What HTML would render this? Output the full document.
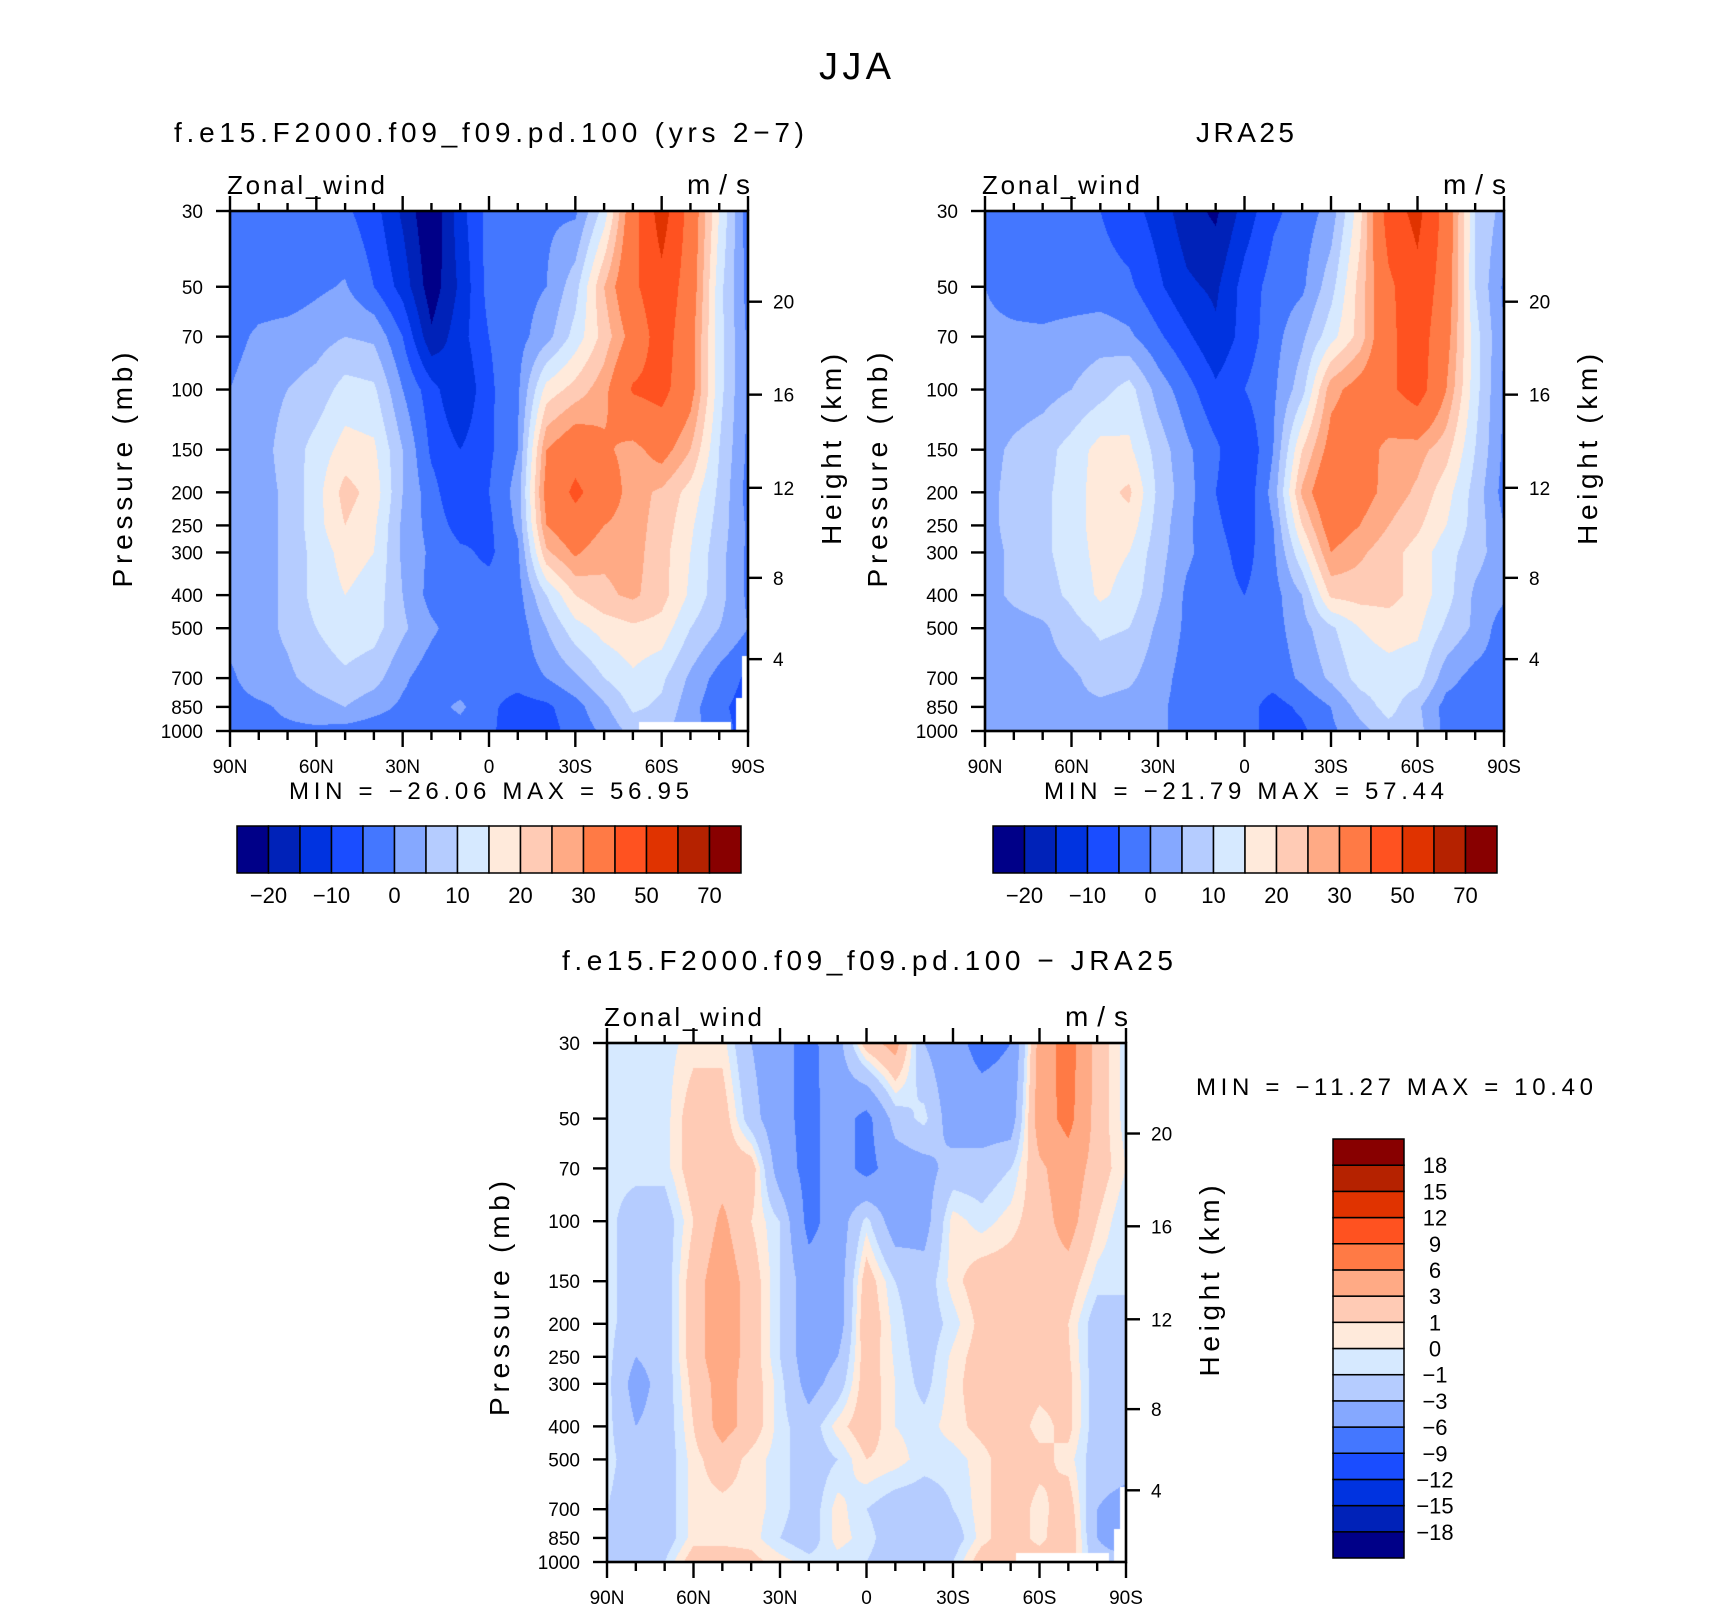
<!DOCTYPE html>
<html><head><meta charset="utf-8">
<style>
html,body{margin:0;padding:0;background:#fff;}
#wrap{position:relative;width:1710px;height:1611px;overflow:hidden;background:#fff;font-family:"Liberation Sans",sans-serif;}
canvas{position:absolute;}
svg{position:absolute;left:0;top:0;}
</style></head>
<body>
<div id="wrap">
<canvas id="c1"></canvas>
<canvas id="c2"></canvas>
<canvas id="c3"></canvas>
<svg id="ov" width="1710" height="1611"></svg>
</div>
<script>
// ---- data ----
const lats = [90,80,70,60,50,40,30,20,10,0,-10,-20,-30,-40,-50,-60,-70,-80,-90];
const levels = [30,50,70,100,150,200,250,300,400,500,700,850,1000];
const heightTicks = [20,16,12,8,4];
const heightTickP = [55.3,103.5,194.0,356.0,616.0];
const pressureTickLabels = ["30","50","70","100","150","200","250","300","400","500","700","850","1000"];
const latTickLabels = ["90N","60N","30N","0","30S","60S","90S"];
const colors = ["#000088","#0022b8","#0033e0","#1a4dff","#4477ff","#85a8ff","#b5ccff","#d6e9ff","#ffeadb","#ffcbb5","#ffaa85","#ff7a45","#ff5220","#e03300","#b52200","#880000"];
const boundsFull = [-20,-15,-10,-5,0,5,10,15,20,25,30,40,50,60,70];
const boundsFullLabels = ["−20","−10","0","10","20","30","50","70"];
const boundsDiff = [-18,-15,-12,-9,-6,-3,-1,0,1,3,6,9,12,15,18];
const boundsDiffLabels = ["−18","−15","−12","−9","−6","−3","−1","0","1","3","6","9","12","15","18"];

const uModel = [
 [-3,-3,-3,-3,-4,-8,-16,-25,-12,-3,-2,-1,-1,12,36,55,36,15,-3],
 [-3,-3,-3,-1,0.5,-5,-12,-23,-14,-3,-2,0,8,25,38,47,35,12,-2],
 [-2,1,2,3,5,4,-5,-19,-12,-5,-2,3,12,22,33,45,33,12,-1],
 [0,3,5,7,12,11,0,-8,-15,-6,-1,17,22,28,41,43,33,12,-1],
 [2,3,7,12,17,16,5,-6,-10,-6,0,30,36,31,28,33,25,10,-1],
 [2,3,6,13,22,18,5,-3,-10,-5,2,33,42,35,27,24,18,9,-2],
 [2,3,6,13,20,16,4,-2,-7,-6,1,30,36,30,27,23,16,8,-1],
 [2,3,6,12,17,15,4,-1,-4,-6,-1,24,31,26,27,22,15,7,-1],
 [2,3,6,12,15,13,5,-2,-3,-3,-2,10,20,24,26,22,14,7,-1],
 [2,3,6,10,13,12,6,1,-3,-3,-3,5,13,17,19,18,10,5,0],
 [-1,3,4,7,9,7,1,-3,-3,-3,-3,0,4,10,14,11,4,-2,-6],
 [-2,-1,1,3,5,2,-1,-2,1,-4,-7,-6,-2,4,11,9,2,-4,-7],
 [-2,-1,-1,-1,-2,-3,-3,-3,-2,-4,-8,-7,-3,1,7,6,2,-3,-7]
];
const uJra = [
 [-3,-3,-3,-3,-5,-8,-12,-18,-21,-13,-6,-3,2,18,45,53,36,10,3],
 [0,-2,-3,-3,-3,-4,-9,-14,-16,-8,-3,-1,8,22,38,47,35,10,-1],
 [1,1,1,2,3,1,-4,-9,-14,-8,-2,4,13,22,38,45,33,12,0],
 [1,2,3,5,8,12,3,-3,-9,-5,-1,8,28,33,38,45,30,12,-1],
 [3,6,8,12,17,16,8,1,-4,-10,0,20,33,34,28,27,22,10,-1],
 [3,7,9,12,18,21,9,2,-5,-9,2,26,38,33,28,24,17,8,-2],
 [3,7,9,12,18,18,8,1,-4,-8,0,20,34,30,25,21,15,8,0],
 [3,6,9,12,17,15,7,1,-3,-7,-1,14,30,26,22,18,12,7,2],
 [3,6,8,11,16,13,6,-1,-3,-5,-2,5,21,22,22,18,12,4,1],
 [2,3,4,8,11,10,4,-1,-3,-3,-2,3,9,15,17,16,9,4,-3],
 [1,1,3,4,7,6,2,-2,-3,-3,-3,1,6,12,13,12,2,-2,-2],
 [2,3,3,4,4,3,1,-2,-3,-3,-7,-4,0,7,12,6,-2,-3,-3],
 [1,2,2,2,2,1,1,-2,-3,-3,-7,-6,-1,3,8,7,-2,-2,-2]
];
const uDiff = [
 [-0.5,-0.5,-0.5,0.5,0.5,-3,-5,-7,-4,2,4,-3,-5,-7,-6,4,7.5,2,-0.5],
 [-0.5,-0.5,-0.5,2,2,-2,-5,-7,-4.5,-7,-2,-0.5,-4.5,-4.5,-4.5,4.5,7,2,-0.5],
 [-0.5,-0.5,-0.5,2,2,2,-4.5,-7,-4.5,-7,-4.5,-4,-2,-2,-1,2.5,4.5,2,0],
 [-0.5,-2,-2,1,3.5,1,-1,-7,-4.5,-0.5,-4.5,-4,0.5,-0.5,0.5,2,4,1,-1],
 [-0.5,-2,-2,2,4.5,2,-1,-4.5,-4.5,2,-1,-2,0.5,2,2,2,2,-0.5,-1],
 [-0.5,-2,-2,2,4.5,2,-1,-4.5,-4.5,2.5,-0.5,-2,-0.5,1.5,2,2,1,-2,-1],
 [-0.5,-3,-2,2,4.5,2,-1,-4.5,-3,2,-0.2,-1.8,0.3,1.8,2,1.8,1.2,-2,-1],
 [-0.5,-4,-2,1.5,4,2,-0.5,-4,-2,2,0,-1.5,0.5,2,2,1.5,1.5,-2,-1],
 [-0.5,-3,-2,1,4,2,-0.5,-2,0.5,2,0,-0.5,0.5,1.5,2,0.5,1.5,-2,-1],
 [-0.5,-2,-2,0.5,2,0.5,-0.5,-2,-1,1,0.5,-0.5,-0.5,0.5,2,1.5,0.5,-2,-2],
 [-1,-2,-2,0.5,0.5,0.5,-0.5,-2,0.5,-1,-2,-2,-1,0.5,2,0.5,2,-3,-4],
 [-1,-2,-2,0.5,0.5,0.5,-1,-2,0.5,-0.5,-2,-2,-2,0.5,2,0.5,2.5,-3,-5],
 [-2,-2,-1,2,2,1.5,0.5,-0.5,-0.5,-1,-2,-2,-1,2,2,2,2,-2,-2]
];

// ---- layout ----
const P = [
 {id:'c1', x:230, y:211, w:518, h:520, data:uModel, bounds:boundsFull, mask:true},
 {id:'c2', x:985, y:211, w:519, h:520, data:uJra, bounds:boundsFull, mask:false},
 {id:'c3', x:607, y:1043, w:519, h:519, data:uDiff, bounds:boundsDiff, mask:true}
];
const LN = Math.log(1000/30);
function yFrac(p){return Math.log(p/30)/LN;}
function latFrac(lat){return (90-lat)/180;}
function hex(c){return [parseInt(c.slice(1,3),16),parseInt(c.slice(3,5),16),parseInt(c.slice(5,7),16)];}
const rgb = colors.map(hex);

function valueAt(data, lat, p){
  let fx=(90-lat)/10; let i0=Math.min(17,Math.floor(fx)); let tx=fx-i0;
  let j0=0; while(j0<levels.length-2 && p>levels[j0+1]) j0++;
  let ty=Math.log(p/levels[j0])/Math.log(levels[j0+1]/levels[j0]);
  ty=Math.max(0,Math.min(1,ty));
  const a=data[j0][i0],b=data[j0][i0+1],c=data[j0+1][i0],d=data[j0+1][i0+1];
  return (a*(1-tx)+b*tx)*(1-ty)+(c*(1-tx)+d*tx)*ty;
}
function missing(lat,p){
  if(lat<=-52 && lat>=-84 && p>=938) return true;
  if(lat<=-88 && p>=604) return true;
  if(lat<=-86 && p>=800) return true;
  return false;
}
P.forEach(pn=>{
  const cv=document.getElementById(pn.id);
  cv.width=pn.w; cv.height=pn.h; cv.style.left=pn.x+'px'; cv.style.top=pn.y+'px';
  const ctx=cv.getContext('2d'); const img=ctx.createImageData(pn.w,pn.h);
  for(let py=0;py<pn.h;py++){
    const p=30*Math.exp((py+0.5)/pn.h*LN);
    for(let px=0;px<pn.w;px++){
      const lat=90-(px+0.5)/pn.w*180;
      let col=[255,255,255];
      if(!(pn.mask && missing(lat,p))){
        const v=valueAt(pn.data,lat,p);
        let k=0; while(k<pn.bounds.length && v>=pn.bounds[k]) k++;
        col=rgb[k];
      }
      const o=(py*pn.w+px)*4; img.data[o]=col[0];img.data[o+1]=col[1];img.data[o+2]=col[2];img.data[o+3]=255;
    }
  }
  ctx.putImageData(img,0,0);
});

// ---- overlay ----
const svg=document.getElementById('ov');
const NS='http://www.w3.org/2000/svg';
function el(tag,attrs,parent){const e=document.createElementNS(NS,tag);for(const k in attrs)e.setAttribute(k,attrs[k]);(parent||svg).appendChild(e);return e;}
function txt(s,attrs,parent){const e=el('text',Object.assign({'font-family':'Liberation Sans, sans-serif',fill:'#000'},attrs),parent);e.textContent=s;return e;}

let t;
t=txt('JJA',{x:855,y:79,'font-size':38,'text-anchor':'middle',textLength:72,lengthAdjust:'spacing'});



const titles=[
 {s:'f.e15.F2000.f09_f09.pd.100 (yrs 2−7)',x:174,y:142,len:630,name:'model-panel-title'},
 {s:'JRA25',x:1196,y:142,len:98,name:'jra25-panel-title'},
 {s:'f.e15.F2000.f09_f09.pd.100 − JRA25',x:562,y:970,len:611,name:'difference-panel-title'}
];
titles.forEach(o=>{
  const e=txt(o.s,{x:o.x,y:o.y,'font-size':28,textLength:o.len,lengthAdjust:'spacing'});
  
  
});

const mm=[
 {s:'MIN  =  −26.06    MAX  =    56.95',x:289,y:799,len:400},
 {s:'MIN  =  −21.79    MAX  =    57.44',x:1044,y:799,len:400},
 {s:'MIN  =  −11.27    MAX  =    10.40',x:1196,y:1095,len:397}
];
mm.forEach((o,i)=>{
  const e=txt(o.s,{x:o.x,y:o.y,'font-size':24,textLength:o.len,lengthAdjust:'spacing','xml:space':'preserve'});
  
  
});

P.forEach((pn,i)=>{
  const g=el('g',{});
  
  
  const L=pn.x,R=pn.x+pn.w,T=pn.y,B=pn.y+pn.h;
  const fr=el('rect',{x:L,y:T,width:pn.w,height:pn.h,fill:'none',stroke:'#000','stroke-width':2.6},g);
  
  
  for(let lat=90;lat>=-90;lat-=10){
    const x=L+latFrac(lat)*pn.w; const major=(lat%30===0);
    const len=major?15:8;
    el('line',{x1:x,y1:T,x2:x,y2:T-len,stroke:'#000','stroke-width':2.4},g);
    el('line',{x1:x,y1:B,x2:x,y2:B+len+1,stroke:'#000','stroke-width':2.4},g);
  }
  latTickLabels.forEach((s,k)=>{
    const x=L+k/6*pn.w;
    const e=txt(s,{x:x,y:B+42,'font-size':19,'text-anchor':'middle'},g);
    
    
  });
  levels.forEach((p,k)=>{
    const y=T+yFrac(p)*pn.h;
    el('line',{x1:L,y1:y,x2:L-14,y2:y,stroke:'#000','stroke-width':2.4},g);
    const e=txt(pressureTickLabels[k],{x:L-27,y:y+7,'font-size':19,'text-anchor':'end'},g);
    
    
  });
  heightTickP.forEach((p,k)=>{
    const y=T+yFrac(p)*pn.h;
    el('line',{x1:R,y1:y,x2:R+14,y2:y,stroke:'#000','stroke-width':2.4},g);
    const e=txt(String(heightTicks[k]),{x:R+25,y:y+7,'font-size':19},g);
    
    
  });
  let e=txt('Zonal_wind',{x:L-3,y:T-17,'font-size':26,textLength:158,lengthAdjust:'spacing'},g);
  
  
  e=txt('m/s',{x:R+2,y:T-17,'font-size':28,'text-anchor':'end',textLength:63,lengthAdjust:'spacing'},g);
  
  
  const cy=T+pn.h*0.5-(i===2?4:1);
  e=txt('Pressure  (mb)',{x:0,y:0,'font-size':28,'text-anchor':'middle',textLength:235,lengthAdjust:'spacing','xml:space':'preserve',transform:`translate(${L-98},${cy}) rotate(-90)`},g);
  
  
  e=txt('Height  (km)',{x:0,y:0,'font-size':28,'text-anchor':'middle',textLength:191,lengthAdjust:'spacing','xml:space':'preserve',transform:`translate(${R+93},${T+pn.h*0.42+20}) rotate(-90)`},g);
  
  
});

[[237,'colorbar-model'],[993,'colorbar-jra25']].forEach(([x0,name])=>{
  const g=el('g',{});
  
  
  const W=504/16;
  colors.forEach((c,k)=>{
    const r=el('rect',{x:x0+k*W,y:826,width:W,height:47,fill:c,stroke:'#000','stroke-width':1.5},g);
    
    
  });
  boundsFullLabels.forEach((s,k)=>{
    const e=txt(s,{x:x0+(2*k+1)*W,y:903,'font-size':22,'text-anchor':'middle'},g);
    
    
  });
});
(function(){
  const g=el('g',{});
  
  
  const H=419/16, x0=1333, y0=1139;
  colors.forEach((c,k)=>{
    const r=el('rect',{x:x0,y:y0+(15-k)*H,width:71,height:H,fill:c,stroke:'#000','stroke-width':1.5},g);
    
    
  });
  boundsDiffLabels.forEach((s,k)=>{
    const y=y0+(15-k)*H;
    const e=txt(s,{x:1435,y:y+8,'font-size':22,'text-anchor':'middle'},g);
    
    
  });
})();
</script>
</body></html>
